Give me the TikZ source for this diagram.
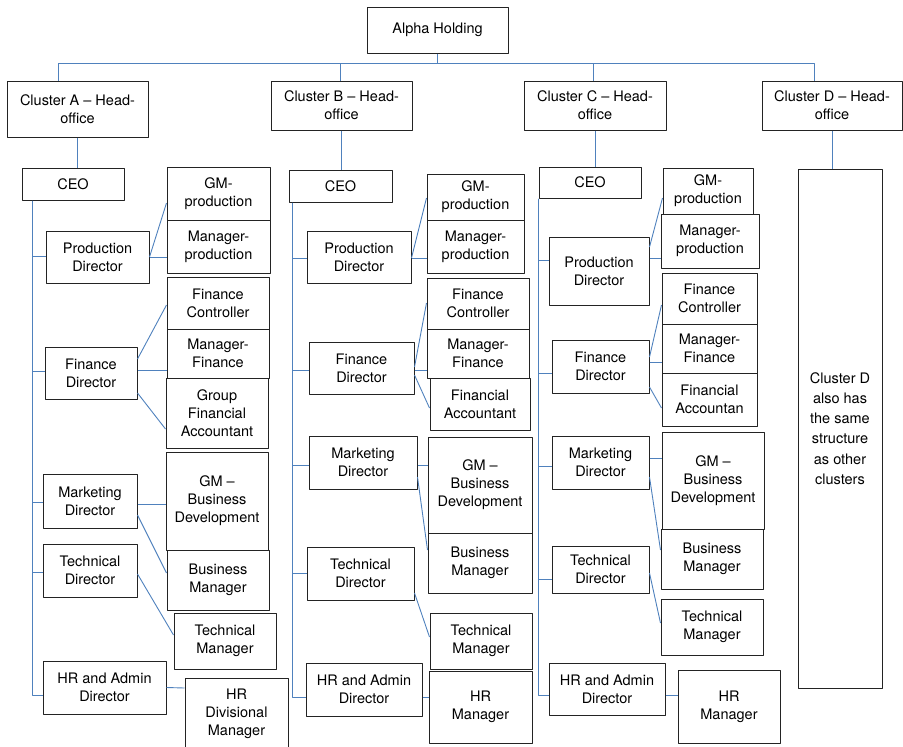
\documentclass[tikz,border=0pt]{standalone}
\usepackage{fontspec}
\setmainfont{TeX Gyre Heros}
\definecolor{linkblue}{RGB}{79,129,189}
\definecolor{boxgray}{RGB}{35,35,35}
\begin{document}
\begin{tikzpicture}[x=1pt, y=-1pt, line join=round, font=\fontsize{14.5}{18}\selectfont,
	box/.style={draw=boxgray, line width=1pt, align=center, inner sep=0pt},
	link/.style={draw=linkblue, line width=0.9pt}]
	\useasboundingbox (0,0) rectangle (903,747);
	% boxes: name/left/top/right/bottom/text
	\foreach \n/\xa/\ya/\xb/\yb/\txt in {
		hold/367/7/508/53/Alpha Holding,
		headA/7/81/148/137/Cluster A – Head-\\office,
		headB/271/81/412/130/Cluster B – Head-\\office,
		headC/524/81/666/130/Cluster C – Head-\\office,
		headD/762/81/902/130/Cluster D – Head-\\office,
		ceoA/22/168/124/200/CEO,
		pdA/46/231/149/283/Production\\Director,
		gmpA/167/167/270/220/GM-\\production,
		mpA/167/220/270/273/Manager-\\production,
		fdA/45/347/137/399/Finance\\Director,
		fcA/167/277/269/329/Finance\\Controller,
		mfA/167/329/269/378/Manager-\\Finance,
		gfaA/166/378/268/448/Group\\Financial\\Accountant,
		mdA/43/474/137/528/Marketing\\Director,
		gmbA/166/452/268/550/GM –\\Business\\Development,
		bmA/167/550/269/610/Business\\Manager,
		tdA/43/544/137/597/Technical\\Director,
		tmA/174/613/276/669/Technical\\Manager,
		hrA/43/661/166/714/HR and Admin\\Director,
		hdA/185/678/288/750/HR\\Divisional\\Manager,
		ceoB/289/170/392/202/CEO,
		pdB/307/231/411/283/Production\\Director,
		gmpB/427/174/524/220/GM-\\production,
		mpB/427/220/524/273/Manager-\\production,
		fdB/309/342/414/394/Finance\\Director,
		fcB/427/278/529/329/Finance\\Controller,
		mfB/427/329/529/378/Manager-\\Finance,
		faB/430/378/530/430/Financial\\Accountant,
		mdB/309/436/417/489/Marketing\\Director,
		gmbB/428/437/532/533/GM –\\Business\\Development,
		bmB/428/533/532/593/Business\\Manager,
		tdB/307/547/414/600/Technical\\Director,
		tmB/430/613/532/669/Technical\\Manager,
		hrB/306/663/422/716/HR and Admin\\Director,
		hmB/429/671/532/743/HR\\Manager,
		ceoC/539/167/641/198/CEO,
		pdC/549/237/649/305/Production\\Director,
		gmpC/663/168/753/214/GM-\\production,
		mpC/661/214/759/268/Manager-\\production,
		fdC/552/340/649/393/Finance\\Director,
		fcC/662/273/757/324/Finance\\Controller,
		mfC/662/324/757/373/Manager-\\Finance,
		faC/662/373/757/426/Financial\\Accountan,
		mdC/552/436/649/489/Marketing\\Director,
		gmbC/662/432/764/529/GM –\\Business\\Development,
		bmC/661/529/763/589/Business\\Manager,
		tdC/552/546/649/593/Technical\\Director,
		tmC/661/599/763/655/Technical\\Manager,
		hrC/549/663/665/715/HR and Admin\\Director,
		hmC/678/670/780/743/HR\\Manager}
	\node[box, minimum width=\xb-\xa, minimum height=\yb-\ya] (\n) at ({(\xa+\xb)/2},{(\ya+\yb)/2}) {\txt};
	\node[box, minimum width=84, minimum height=519, font=\fontsize{14.5}{20.2}\selectfont] (noteD) at (840,428.5)
		{Cluster D\\also has\\the same\\structure\\as other\\clusters};
	% top level
	\draw[link] (hold.south) -- ++(0,10) coordinate (bus);
	\draw[link] (bus) -| ([xshift=-19.5]headA.north);
	\draw[link] (bus) -| ([xshift=-1]headB.north);
	\draw[link] (bus) -| ([xshift=-2]headC.north);
	\draw[link] (bus) -| ([xshift=-18]headD.north);
	\foreach \h/\c in {headA/ceoA,headB/ceoB,headC/ceoC,headD/noteD}
	\draw[link] (\h.south) -- (\h.south |- \c.north);
	% spines from each CEO
	\coordinate (spA) at ([xshift=11]ceoA.south west);
	\coordinate (spB) at ([xshift=4]ceoB.south west);
	\coordinate (spC) at (ceoC.south west);
	\foreach \m/\s in {pdA/1,fdA/2,mdA/-1,tdA/-1.5,hrA/-7.5}
	\draw[link] (spA) |- ([yshift=\s]\m.west);
	\foreach \m/\s in {pdB/-1,fdB/-2,mdB/-2.5,tdB/0.5,hrB/-7.5}
	\draw[link] (spB) |- ([yshift=\s]\m.west);
	\foreach \m/\s in {pdC/11,fdC/-6.5,mdC/-3.5,tdC/-9.5,hrC/-6}
	\draw[link] (spC) |- ([yshift=\s]\m.west);
	% directors to managers
	\foreach \a/\as/\b/\bs in {pdA/0/gmpA/-9.5, pdA/0/mpA/-10.5, fdA/14/fcA/-2, fdA/3/mfA/-16.5,
		fdA/-20/gfaA/-16, mdA/-3/gmbA/-3, mdA/-14/bmA/7, tdA/-3.5/tmA/6, hrA/0/hdA/26,
		pdB/-1/gmpB/-1, pdB/-1/mpB/-11.5, fdB/1/fcB/0.5, fdB/-2/mfB/-16.5,
		fdB/-7/faB/-4, mdB/-2.5/gmbB/20, mdB/-14.5/bmB/13, tdB/-19.5/tmB/4, hrB/-7.5/hmB/10,
		pdC/24/gmpC/-7, pdC/13/mpC/-17, fdC/9.5/fcC/-6.5, fdC/4.5/mfC/-13.5,
		fdC/-20.5/faC/-8.5, mdC/4.5/gmbC/22.5, mdC/-14.5/bmC/9, tdC/-3.5/tmC/4, hrC/-6/hmC/11.5}
	\draw[link] ([yshift=\as]\a.east) -- ([yshift=\bs]\b.west);
\end{tikzpicture}
\end{document}
